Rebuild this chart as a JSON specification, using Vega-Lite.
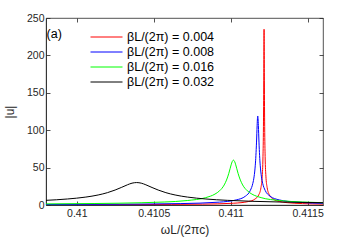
{
  "$schema": "https://vega.github.io/schema/vega-lite/v6.json",
  "width": 277,
  "height": 187,
  "autosize": {"type": "none"},
  "padding": {"left": 46, "top": 18, "right": 33, "bottom": 36},
  "config": {
    "font": "Liberation Sans",
    "view": {"stroke": "#262626", "strokeWidth": 0.8},
    "axis": {"grid": false, "domainColor": "#262626", "domainWidth": 0.8, "tickColor": "#262626", "tickWidth": 0.8, "labelColor": "#262626", "titleColor": "#262626", "labelFontSize": 10.5, "titleFontSize": 12, "titleFontWeight": "normal"}
  },
  "datasets": {
    "curves": [
      {"x": 0.4098, "y": 0.33, "s": "βL/(2π) = 0.004"},
      {"x": 0.410417, "y": 0.59, "s": "βL/(2π) = 0.004"},
      {"x": 0.410817, "y": 1.17, "s": "βL/(2π) = 0.004"},
      {"x": 0.411017, "y": 2.35, "s": "βL/(2π) = 0.004"},
      {"x": 0.411117, "y": 4.7, "s": "βL/(2π) = 0.004"},
      {"x": 0.411157, "y": 7.83, "s": "βL/(2π) = 0.004"},
      {"x": 0.411182, "y": 13.4, "s": "βL/(2π) = 0.004"},
      {"x": 0.411197, "y": 23.4, "s": "βL/(2π) = 0.004"},
      {"x": 0.411205, "y": 38.6, "s": "βL/(2π) = 0.004"},
      {"x": 0.41121, "y": 64.6, "s": "βL/(2π) = 0.004"},
      {"x": 0.411213, "y": 105, "s": "βL/(2π) = 0.004"},
      {"x": 0.411215, "y": 166, "s": "βL/(2π) = 0.004"},
      {"x": 0.411216, "y": 210, "s": "βL/(2π) = 0.004"},
      {"x": 0.411217, "y": 235, "s": "βL/(2π) = 0.004"},
      {"x": 0.411218, "y": 210, "s": "βL/(2π) = 0.004"},
      {"x": 0.411219, "y": 166, "s": "βL/(2π) = 0.004"},
      {"x": 0.411221, "y": 105, "s": "βL/(2π) = 0.004"},
      {"x": 0.411224, "y": 64.6, "s": "βL/(2π) = 0.004"},
      {"x": 0.411229, "y": 38.6, "s": "βL/(2π) = 0.004"},
      {"x": 0.411237, "y": 23.4, "s": "βL/(2π) = 0.004"},
      {"x": 0.411252, "y": 13.4, "s": "βL/(2π) = 0.004"},
      {"x": 0.411277, "y": 7.83, "s": "βL/(2π) = 0.004"},
      {"x": 0.411317, "y": 4.7, "s": "βL/(2π) = 0.004"},
      {"x": 0.411367, "y": 3.13, "s": "βL/(2π) = 0.004"},
      {"x": 0.411467, "y": 1.88, "s": "βL/(2π) = 0.004"},
      {"x": 0.4116, "y": 1.23, "s": "βL/(2π) = 0.004"},

      {"x": 0.4098, "y": 0.69, "s": "βL/(2π) = 0.008"},
      {"x": 0.410276, "y": 1.06, "s": "βL/(2π) = 0.008"},
      {"x": 0.410676, "y": 1.9, "s": "βL/(2π) = 0.008"},
      {"x": 0.410926, "y": 3.81, "s": "βL/(2π) = 0.008"},
      {"x": 0.411036, "y": 6.79, "s": "βL/(2π) = 0.008"},
      {"x": 0.411096, "y": 11.8, "s": "βL/(2π) = 0.008"},
      {"x": 0.411128, "y": 19.6, "s": "βL/(2π) = 0.008"},
      {"x": 0.411144, "y": 28.9, "s": "βL/(2π) = 0.008"},
      {"x": 0.411152, "y": 37.6, "s": "βL/(2π) = 0.008"},
      {"x": 0.41116, "y": 53.2, "s": "βL/(2π) = 0.008"},
      {"x": 0.411164, "y": 66.0, "s": "βL/(2π) = 0.008"},
      {"x": 0.411168, "y": 84.1, "s": "βL/(2π) = 0.008"},
      {"x": 0.41117, "y": 95.2, "s": "βL/(2π) = 0.008"},
      {"x": 0.411172, "y": 106.4, "s": "βL/(2π) = 0.008"},
      {"x": 0.411174, "y": 115.4, "s": "βL/(2π) = 0.008"},
      {"x": 0.411176, "y": 119, "s": "βL/(2π) = 0.008"},
      {"x": 0.411178, "y": 115.4, "s": "βL/(2π) = 0.008"},
      {"x": 0.41118, "y": 106.4, "s": "βL/(2π) = 0.008"},
      {"x": 0.411182, "y": 95.2, "s": "βL/(2π) = 0.008"},
      {"x": 0.411184, "y": 84.1, "s": "βL/(2π) = 0.008"},
      {"x": 0.411188, "y": 66.0, "s": "βL/(2π) = 0.008"},
      {"x": 0.411192, "y": 53.2, "s": "βL/(2π) = 0.008"},
      {"x": 0.4112, "y": 37.6, "s": "βL/(2π) = 0.008"},
      {"x": 0.411208, "y": 28.9, "s": "βL/(2π) = 0.008"},
      {"x": 0.411224, "y": 19.6, "s": "βL/(2π) = 0.008"},
      {"x": 0.411256, "y": 11.8, "s": "βL/(2π) = 0.008"},
      {"x": 0.411316, "y": 6.79, "s": "βL/(2π) = 0.008"},
      {"x": 0.411426, "y": 3.81, "s": "βL/(2π) = 0.008"},
      {"x": 0.4116, "y": 2.24, "s": "βL/(2π) = 0.008"},

      {"x": 0.4098, "y": 1.48, "s": "βL/(2π) = 0.016"},
      {"x": 0.410118, "y": 2.0, "s": "βL/(2π) = 0.016"},
      {"x": 0.410418, "y": 3.0, "s": "βL/(2π) = 0.016"},
      {"x": 0.410568, "y": 3.99, "s": "βL/(2π) = 0.016"},
      {"x": 0.410718, "y": 5.97, "s": "βL/(2π) = 0.016"},
      {"x": 0.410838, "y": 9.86, "s": "βL/(2π) = 0.016"},
      {"x": 0.410898, "y": 14.6, "s": "βL/(2π) = 0.016"},
      {"x": 0.410928, "y": 19.0, "s": "βL/(2π) = 0.016"},
      {"x": 0.410958, "y": 26.8, "s": "βL/(2π) = 0.016"},
      {"x": 0.410973, "y": 33.3, "s": "βL/(2π) = 0.016"},
      {"x": 0.410988, "y": 42.4, "s": "βL/(2π) = 0.016"},
      {"x": 0.410996, "y": 48.4, "s": "βL/(2π) = 0.016"},
      {"x": 0.411003, "y": 53.7, "s": "βL/(2π) = 0.016"},
      {"x": 0.41101, "y": 58.0, "s": "βL/(2π) = 0.016"},
      {"x": 0.411018, "y": 60, "s": "βL/(2π) = 0.016"},
      {"x": 0.411026, "y": 58.0, "s": "βL/(2π) = 0.016"},
      {"x": 0.411033, "y": 53.7, "s": "βL/(2π) = 0.016"},
      {"x": 0.41104, "y": 48.4, "s": "βL/(2π) = 0.016"},
      {"x": 0.411048, "y": 42.4, "s": "βL/(2π) = 0.016"},
      {"x": 0.411063, "y": 33.3, "s": "βL/(2π) = 0.016"},
      {"x": 0.411078, "y": 26.8, "s": "βL/(2π) = 0.016"},
      {"x": 0.411108, "y": 19.0, "s": "βL/(2π) = 0.016"},
      {"x": 0.411138, "y": 14.6, "s": "βL/(2π) = 0.016"},
      {"x": 0.411198, "y": 9.86, "s": "βL/(2π) = 0.016"},
      {"x": 0.411318, "y": 5.97, "s": "βL/(2π) = 0.016"},
      {"x": 0.411468, "y": 3.99, "s": "βL/(2π) = 0.016"},
      {"x": 0.4116, "y": 3.09, "s": "βL/(2π) = 0.016"},

      {"x": 0.4098, "y": 6.23, "s": "βL/(2π) = 0.032"},
      {"x": 0.409939, "y": 8.03, "s": "βL/(2π) = 0.032"},
      {"x": 0.410059, "y": 10.6, "s": "βL/(2π) = 0.032"},
      {"x": 0.410139, "y": 13.4, "s": "βL/(2π) = 0.032"},
      {"x": 0.410199, "y": 16.5, "s": "βL/(2π) = 0.032"},
      {"x": 0.410249, "y": 20.0, "s": "βL/(2π) = 0.032"},
      {"x": 0.410289, "y": 23.4, "s": "βL/(2π) = 0.032"},
      {"x": 0.410329, "y": 27.0, "s": "βL/(2π) = 0.032"},
      {"x": 0.410359, "y": 29.2, "s": "βL/(2π) = 0.032"},
      {"x": 0.410389, "y": 30, "s": "βL/(2π) = 0.032"},
      {"x": 0.410419, "y": 29.2, "s": "βL/(2π) = 0.032"},
      {"x": 0.410449, "y": 27.0, "s": "βL/(2π) = 0.032"},
      {"x": 0.410489, "y": 23.4, "s": "βL/(2π) = 0.032"},
      {"x": 0.410529, "y": 20.0, "s": "βL/(2π) = 0.032"},
      {"x": 0.410579, "y": 16.5, "s": "βL/(2π) = 0.032"},
      {"x": 0.410639, "y": 13.4, "s": "βL/(2π) = 0.032"},
      {"x": 0.410719, "y": 10.6, "s": "βL/(2π) = 0.032"},
      {"x": 0.410839, "y": 8.03, "s": "βL/(2π) = 0.032"},
      {"x": 0.410978, "y": 6.23, "s": "βL/(2π) = 0.032"},
      {"x": 0.411139, "y": 4.93, "s": "βL/(2π) = 0.032"},
      {"x": 0.411339, "y": 3.91, "s": "βL/(2π) = 0.032"},
      {"x": 0.4116, "y": 3.08, "s": "βL/(2π) = 0.032"}
    ]
  },
  "layer": [
    {
      "data": {"name": "curves"},
      "mark": {"type": "line", "strokeWidth": 1, "interpolate": "monotone", "clip": true},
      "encoding": {
        "x": {"field": "x", "type": "quantitative",
              "scale": {"domain": [0.4098, 0.4116], "nice": false, "zero": false},
              "axis": {"values": [0.41, 0.4105, 0.411, 0.4115], "format": ".4~f", "tickSize": -4, "labelPadding": 7, "title": "ωL/(2πc)", "titlePadding": 6}},
        "y": {"field": "y", "type": "quantitative",
              "scale": {"domain": [0, 250], "nice": false},
              "axis": {"values": [0, 50, 100, 150, 200, 250], "tickSize": -4, "labelPadding": 6, "title": "|u|", "titlePadding": 10}},
        "color": {"field": "s", "type": "nominal",
                  "scale": {"domain": ["βL/(2π) = 0.004", "βL/(2π) = 0.008", "βL/(2π) = 0.016", "βL/(2π) = 0.032"], "range": ["#ff0000", "#0000ff", "#00ff00", "#000000"]},
                  "legend": {"orient": "none", "legendX": 52, "legendY": 10.5, "title": null, "symbolType": "M-2,0H2", "symbolSize": 256, "symbolStrokeWidth": 1, "labelFontSize": 12.5, "labelColor": "#000000", "labelOffset": 12, "rowPadding": 0, "padding": 0}}
      }
    },
    {
      "data": {"values": [{}]},
      "mark": {"type": "text", "fontSize": 12.5, "align": "left", "baseline": "middle", "color": "#000000"},
      "encoding": {
        "x": {"datum": 0.409804, "type": "quantitative", "axis": {"orient": "top", "values": [0.41, 0.4105, 0.411, 0.4115], "labels": false, "tickSize": -4, "title": null, "domain": false}},
        "y": {"datum": 228, "type": "quantitative", "axis": {"orient": "right", "values": [0, 50, 100, 150, 200, 250], "labels": false, "tickSize": -4, "title": null, "domain": false}},
        "text": {"value": "(a)"}
      }
    }
  ],
  "resolve": {"axis": {"x": "independent", "y": "independent"}}
}
